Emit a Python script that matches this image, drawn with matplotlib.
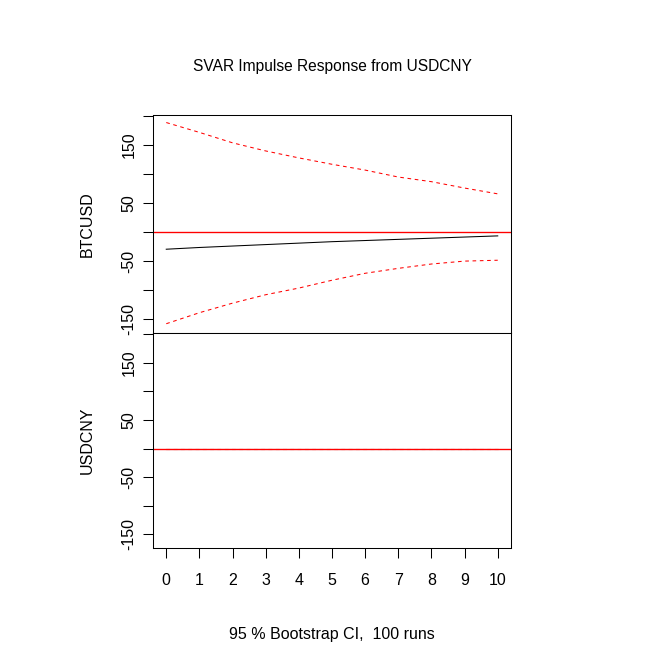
import numpy as np
import matplotlib
matplotlib.use("Agg")
import matplotlib.pyplot as plt

plt.rcParams['font.family'] = ['Liberation Sans', 'DejaVu Sans']

# impulse response data
horizon = list(range(11))
btc_irf = [-29.5, -26.5, -24, -21.5, -19, -16.5, -14.5, -12.5, -10.5, -8.5, -6.5]
btc_upper = [189, 172, 154, 140, 128, 117, 107, 95, 87, 76, 66]
btc_lower = [-158, -139, -122.5, -108, -96.5, -83, -71, -62.5, -55, -50, -48.5]
cny_irf = [0] * 11
cny_upper = [0] * 11
cny_lower = [0] * 11

yticks = [-150, -100, -50, 0, 50, 100, 150, 200]
ylabels = ['-150', '', '-50', '', '50', '', '150', '']
ylim = (-174, 202)

W, H = 665, 664
fig = plt.figure(figsize=(W / 100, H / 100), dpi=100)

left, right = 153 / W, 511 / W
top1, mid, bot2 = 1 - 115 / H, 1 - 333 / H, 1 - 548 / H
ax1 = fig.add_axes([left, mid, right - left, top1 - mid])
ax2 = fig.add_axes([left, bot2, right - left, mid - bot2])

fs = 11.5
lw = 0.75
panels = [(ax1, 'BTCUSD', btc_irf, btc_upper, btc_lower),
          (ax2, 'USDCNY', cny_irf, cny_upper, cny_lower)]
for ax, name, irf, up, lo in panels:
    ax.plot(horizon, irf, color='black', lw=lw)
    ax.plot(horizon, up, color='red', lw=lw, dashes=(3.5, 3.5))
    ax.plot(horizon, lo, color='red', lw=lw, dashes=(3.5, 3.5))
    ax.axhline(0, color='red', lw=lw * 1.3)
    ax.set_xlim(-0.4, 10.4)
    ax.set_ylim(*ylim)
    ax.set_yticks(yticks)
    ax.set_yticklabels(ylabels, rotation=90, va='center', fontsize=fs)
    ax.tick_params(axis='y', length=7, width=lw, pad=5)
    for s in ax.spines.values():
        s.set_linewidth(lw)
    ax.set_ylabel(name, fontsize=fs)
    ax.yaxis.set_label_coords(-0.162, 0.5)

ax1.set_xticks([])
ax2.set_xticks(horizon)
ax2.set_xticklabels([str(h) for h in horizon], fontsize=fs)
ax2.tick_params(axis='x', length=7, width=lw, pad=11)

fig.text(332 / W, 1 - 67 / H, 'SVAR Impulse Response from USDCNY',
         ha='center', va='center', fontsize=11.2)
fig.text(332 / W, 1 - 635 / H, '95 % Bootstrap CI,  100 runs',
         ha='center', va='center', fontsize=fs)

fig.savefig('out.png', dpi=100)
